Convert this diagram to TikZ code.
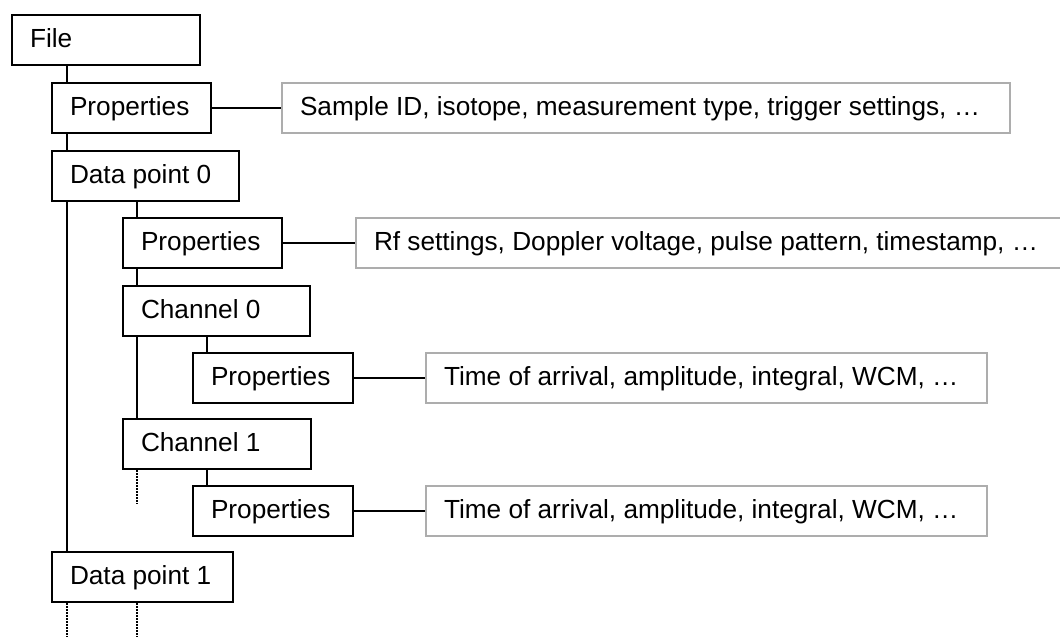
\documentclass[tikz,border=0pt]{standalone}
\usepackage{fontspec}
\setmainfont{Liberation Sans}
% left-aligned label of fixed width that never wraps
\newcommand{\boxtext}[2]{\makebox[#1][l]{#2}}
\begin{document}
\begin{tikzpicture}[x=1pt, y=-1pt,
  every node/.style={font=\fontsize{26.2}{30}\selectfont},
  item/.style={draw=black, line width=2.4pt, fill=white, minimum height=50pt,
    inner xsep=18pt, inner ysep=0pt, text height=19pt, text depth=5pt, anchor=center},
  info/.style={draw=black!32, line width=2pt, fill=white, minimum height=50pt,
    inner xsep=18pt, inner ysep=0pt, text height=19pt, text depth=5pt, anchor=center},
  link/.style={line width=2.4pt},
  more/.style={line width=2.4pt, dash pattern=on 1.5pt off 1.5pt}]
\useasboundingbox (0,0) rectangle (1060,637);

% column guides of the tree
\coordinate (c1) at (67,0);
\coordinate (c2) at (137,0);
\coordinate (c3) at (207,0);

% file level
\node[item] (file) at (106,40) {\boxtext{152pt}{File}};
\node[item] (fprop) at (131.5,108) {\boxtext{123pt}{Properties}};
\node[info] (finfo) at (646,108)
  {\boxtext{692pt}{Sample ID, isotope, measurement type, trigger settings, \dots}};
\node[item] (dp0) at (145.5,176) {\boxtext{151pt}{Data point 0}};

% data point level
\node[item] (dprop) at (202.5,243) {\boxtext{123pt}{Properties}};
\node[info] (dinfo) at (717.5,243)
  {\boxtext{687pt}{Rf settings, Doppler voltage, pulse pattern, timestamp, \dots}};
\node[item] (ch0) at (216.5,311) {\boxtext{151pt}{Channel 0}};

% channel level
\node[item] (cprop0) at (273,378) {\boxtext{124pt}{Properties}};
\node[info] (cinfo0) at (706.5,378)
  {\boxtext{525pt}{Time of arrival, amplitude, integral, WCM, \dots}};
\node[item] (ch1) at (217,444) {\boxtext{152pt}{Channel 1}};
\node[item] (cprop1) at (273,511) {\boxtext{124pt}{Properties}};
\node[info] (cinfo1) at (706.5,511)
  {\boxtext{525pt}{Time of arrival, amplitude, integral, WCM, \dots}};
\node[item] (dp1) at (142.5,577) {\boxtext{145pt}{Data point 1}};

% tree connectors
\draw[link] (file.south -| c1) -- (fprop.north -| c1);
\draw[link] (fprop.south -| c1) -- (dp0.north -| c1);
\draw[link] (dp0.south -| c1) -- (dp1.north -| c1);
\draw[link] (dp0.south -| c2) -- (dprop.north -| c2);
\draw[link] (dprop.south -| c2) -- (ch0.north -| c2);
\draw[link] (ch0.south -| c2) -- (ch1.north -| c2);
\draw[link] (ch0.south -| c3) -- (cprop0.north -| c3);
\draw[link] (ch1.south -| c3) -- (cprop1.north -| c3);

% property details
\draw[link] (fprop.east) -- (finfo.west);
\draw[link] (dprop.east) -- (dinfo.west);
\draw[link] (cprop0.east) -- (cinfo0.west);
\draw[link] (cprop1.east) -- (cinfo1.west);

% continuation marks
\coordinate (endc) at (137,504);
\coordinate (enda) at (67,637);
\coordinate (endb) at (137,637);
\draw[more] (ch1.south -| c2) -- (endc);
\draw[more] (dp1.south -| c1) -- (enda);
\draw[more] (dp1.south -| c2) -- (endb);
\end{tikzpicture}
\end{document}
